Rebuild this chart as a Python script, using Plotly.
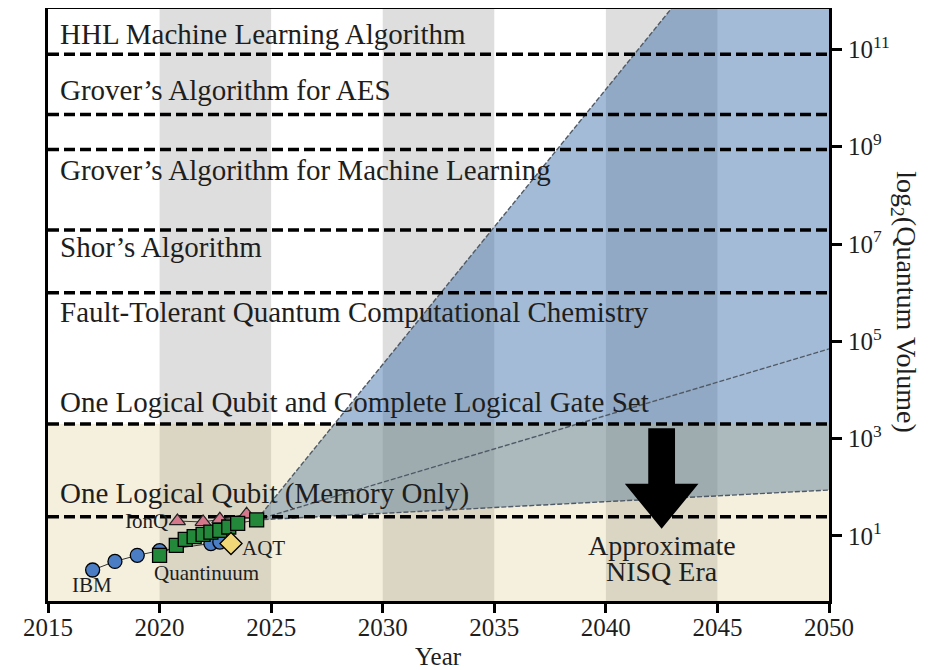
import plotly.graph_objects as go

# ---------------- data ----------------
year_ticks = [2015, 2020, 2025, 2030, 2035, 2040, 2045, 2050]
qv_tick_exp = [1, 3, 5, 7, 9, 11]

milestone_labels = [
    "HHL Machine Learning Algorithm",
    "Grover’s Algorithm for AES",
    "Grover’s Algorithm for Machine Learning",
    "Shor’s Algorithm",
    "Fault-Tolerant Quantum Computational Chemistry",
    "One Logical Qubit and Complete Logical Gate Set",
    "One Logical Qubit (Memory Only)",
]
milestone_qv = [7.9e10, 4.6e9, 8.8e8, 1.95e7, 1.0e6, 2.0e3, 25]
label_log_y = [11.32, 10.16, 8.53, 6.94, 5.60, 3.75, 1.88]

ibm_year = [2017.0, 2018.0, 2019.0, 2020.0, 2022.3, 2022.7]
ibm_qv = [2, 3, 4, 5, 7, 7.5]

quantinuum_year = [2020.0, 2020.75, 2021.15, 2021.55, 2021.95, 2022.3, 2022.7, 2023.1, 2023.5, 2024.35]
quantinuum_qv = [4, 6.4, 8.5, 9.7, 10.8, 12, 13, 15.3, 18.2, 21.4]

ionq_year = [2020.8, 2021.95, 2022.7, 2023.9]
ionq_qv = [20.3, 19.4, 22, 28]

aqt_year = [2023.2]
aqt_qv = [7]

cone_year = [2024.35, 2050]
cone_upper = [21.4, 6.8e15]
cone_mid = [21.4, 7.0e4]
cone_low = [21.4, 88]

nisq_top = 2000
shade_starts = [2020, 2030, 2040]
arrow_year = 2042.5

# ---------------- figure ----------------
fig = go.Figure()

shapes = []
for s in shade_starts:
    shapes.append(dict(type="rect", xref="x", yref="paper", x0=s, x1=s + 5, y0=0, y1=1,
                       fillcolor="rgba(0,0,0,0.13)", line=dict(width=0), layer="below"))

fig.add_trace(go.Scatter(
    x=cone_year + cone_year[::-1], y=cone_upper + cone_low[::-1],
    fill="toself", fillcolor="rgba(50,105,165,0.45)", line=dict(width=0),
    mode="lines", hoverinfo="skip"))

fig.add_trace(go.Scatter(
    x=[year_ticks[0], year_ticks[-1], year_ticks[-1], year_ticks[0]],
    y=[0.1, 0.1, nisq_top, nisq_top],
    fill="toself", fillcolor="rgba(207,183,98,0.21)", line=dict(width=0),
    mode="lines", hoverinfo="skip"))

for arr in (cone_upper, cone_mid, cone_low):
    fig.add_trace(go.Scatter(x=cone_year, y=arr, mode="lines",
                             line=dict(color="#505a66", width=1.4, dash="5px,2px"),
                             hoverinfo="skip"))

mx, my = [], []
for v in milestone_qv:
    mx += [year_ticks[0], year_ticks[-1], None]
    my += [v, v, None]
fig.add_trace(go.Scatter(x=mx, y=my, mode="lines",
                         line=dict(color="black", width=3.5, dash="11px,5px"),
                         hoverinfo="skip"))

fig.add_trace(go.Scatter(x=ibm_year, y=ibm_qv, mode="lines+markers",
                         line=dict(color="#333333", width=1),
                         marker=dict(symbol="circle", size=14, color="#4a7dc4",
                                     line=dict(color="black", width=1.3))))
fig.add_trace(go.Scatter(x=ionq_year, y=ionq_qv, mode="lines+markers",
                         line=dict(color="#333333", width=1),
                         marker=dict(symbol="triangle-up", size=14, color="#d6788c",
                                     line=dict(color="#222222", width=1.2))))
fig.add_trace(go.Scatter(x=quantinuum_year, y=quantinuum_qv, mode="lines+markers",
                         line=dict(color="#333333", width=1),
                         marker=dict(symbol="square", size=14, color="#23883a",
                                     line=dict(color="black", width=1.3))))
fig.add_trace(go.Scatter(x=aqt_year, y=aqt_qv, mode="markers",
                         marker=dict(symbol="diamond", size=17, color="#f0d878",
                                     line=dict(color="black", width=1.3))))

a = arrow_year
arrow_path = (f"M {a-0.6},0.292 L {a+0.6},0.292 L {a+0.6},0.198 L {a+1.65},0.198 "
              f"L {a},0.122 L {a-1.65},0.198 L {a-0.6},0.198 Z")
shapes.append(dict(type="path", xref="x", yref="paper", path=arrow_path,
                   fillcolor="black", line=dict(width=0), layer="above"))

ann = []
tc = "#1e1e1e"
for lab, ly in zip(milestone_labels, label_log_y):
    ann.append(dict(x=2015.45, y=ly, xref="x", yref="y", text=lab, showarrow=False,
                    xanchor="left", yanchor="middle", font=dict(size=29, color=tc)))

small = [
    dict(x=2020.45, y=1.30, text="IonQ", xanchor="right"),
    dict(x=2023.6, y=0.76, text="AQT", xanchor="left"),
    dict(x=2022.1, y=0.24, text="Quantinuum", xanchor="center"),
    dict(x=2016.95, y=-0.01, text="IBM", xanchor="center"),
]
for d in small:
    d.update(xref="x", yref="y", showarrow=False, yanchor="middle", font=dict(size=21, color=tc))
ann += small

ann += [
    dict(x=arrow_year, y=0.80, xref="x", yref="y", text="Approximate", showarrow=False,
         xanchor="center", yanchor="middle", font=dict(size=28, color=tc)),
    dict(x=arrow_year, y=0.28, xref="x", yref="y", text="NISQ Era", showarrow=False,
         xanchor="center", yanchor="middle", font=dict(size=28, color=tc)),
    dict(x=1.097, y=0.505, xref="paper", yref="paper", text="log<sub>2</sub>(Quantum Volume)",
         showarrow=False, textangle=90, xanchor="center", yanchor="middle",
         font=dict(size=28, color=tc)),
    dict(x=0.5, y=-0.093, xref="paper", yref="paper", text="Year", showarrow=False,
         xanchor="center", yanchor="middle", font=dict(size=25, color=tc)),
]

fig.update_layout(
    width=921, height=663,
    margin=dict(l=40, r=100, t=1, b=70),
    plot_bgcolor="white", paper_bgcolor="white",
    showlegend=False,
    font=dict(family="Liberation Serif", color=tc),
    shapes=shapes, annotations=ann,
)
fig.update_xaxes(range=[2015, 2050], tickvals=year_ticks, ticks="outside", ticklen=9,
                 tickwidth=2.5, tickcolor="black", showline=True, linewidth=3,
                 linecolor="black", mirror=True, showgrid=False, zeroline=False,
                 automargin=False, ticklabelstandoff=-7,
                 tickfont=dict(size=25, color=tc))
fig.update_yaxes(type="log", range=[-0.336, 11.83], side="right",
                 tickvals=[10 ** k for k in qv_tick_exp],
                 ticktext=[f"10<sup>{k}</sup>" for k in qv_tick_exp],
                 ticks="outside", ticklen=10, tickwidth=2.5, tickcolor="black",
                 showline=True, linewidth=3, linecolor="black", mirror=True,
                 automargin=False, ticklabelstandoff=1,
                 showgrid=False, zeroline=False, tickfont=dict(size=25, color=tc))

fig.write_html("out.html")
